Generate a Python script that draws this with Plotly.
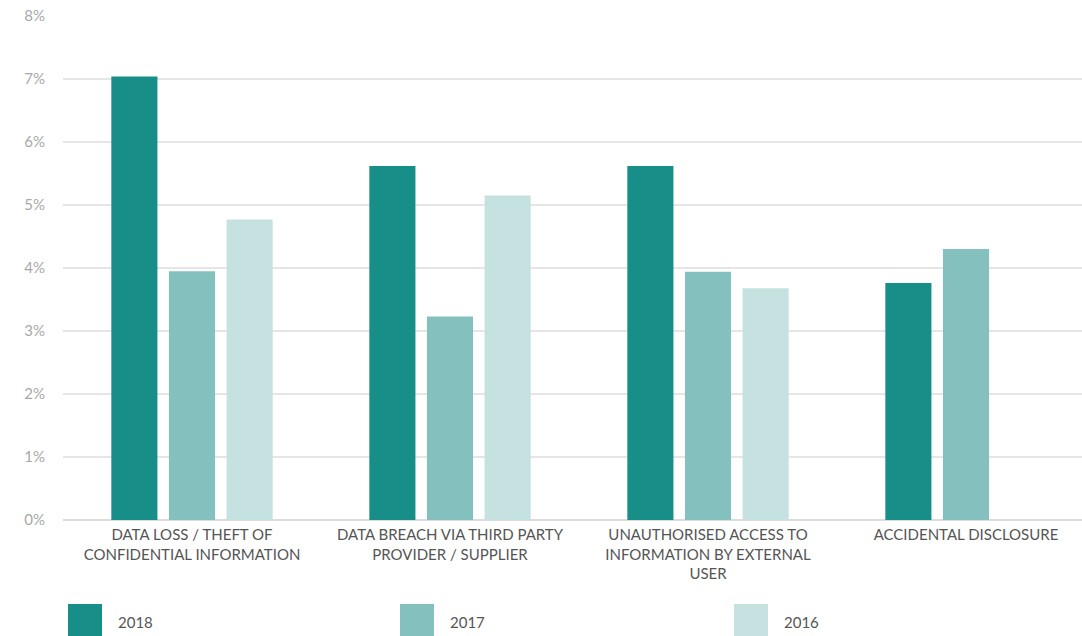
import plotly.graph_objects as go

categories = [
    "DATA LOSS / THEFT OF<br>CONFIDENTIAL INFORMATION",
    "DATA BREACH VIA THIRD PARTY<br>PROVIDER / SUPPLIER",
    "UNAUTHORISED ACCESS TO<br>INFORMATION BY EXTERNAL<br>USER",
    "ACCIDENTAL DISCLOSURE",
]
series_names = ["2018", "2017", "2016"]
values_2018 = [7.04, 5.62, 5.62, 3.76]
values_2017 = [3.95, 3.23, 3.94, 4.30]
values_2016 = [4.77, 5.15, 3.68, None]
colors = ["#178e87", "#84c1be", "#c5e1e0"]
y_ticks = [0, 1, 2, 3, 4, 5, 6, 7, 8]
y_tick_labels = [f"{v}%" for v in y_ticks]

W, H = 1082, 636
L, R, T, B0 = 63, 0, 16, 520
plot_w = W - L - R
plot_h = B0 - T

fig = go.Figure()
for name, vals, col in zip(series_names, [values_2018, values_2017, values_2016], colors):
    fig.add_trace(go.Bar(x=categories, y=vals, name=name, marker_color=col,
                         marker_line_width=0, showlegend=False))

# custom legend (large swatches)
legend_x = [68, 400, 734]
shapes = []
annotations = []
for name, col, lx in zip(series_names, colors, legend_x):
    shapes.append(dict(type="rect", xref="paper", yref="paper",
                       x0=(lx - L) / plot_w, x1=(lx + 34 - L) / plot_w,
                       y0=-(640 - B0) / plot_h, y1=-(604 - B0) / plot_h,
                       fillcolor=col, line_width=0))
    annotations.append(dict(text=name, xref="paper", yref="paper",
                            x=(lx + 48 - L) / plot_w, y=-(622 - B0) / plot_h,
                            xanchor="left", yanchor="middle", showarrow=False,
                            font=dict(family="Lato", size=15, color="#555555")))

cat_px = 258.0
fig.update_layout(
    width=W, height=H,
    margin=dict(l=L, r=R, t=T, b=H - B0),
    plot_bgcolor="white", paper_bgcolor="white",
    barmode="group", bargap=0.33, bargroupgap=0.2,
    font=dict(family="Lato", size=15, color="#555555"),
    shapes=shapes, annotations=annotations,
    xaxis=dict(showgrid=False, showline=False, range=[-0.5, -0.5 + plot_w / cat_px],
               ticklabelstandoff=4, tickfont=dict(size=15, color="#555555")),
    yaxis=dict(range=[0, 8], tickvals=y_ticks, ticktext=y_tick_labels,
               showgrid=True, gridcolor="#e6e6e6", gridwidth=2,
               zeroline=True, zerolinecolor="#dcdcdc", zerolinewidth=2,
               ticklabelstandoff=17, tickfont=dict(size=15, color="#a8a8a8")),
)
fig.write_html("out.html")
